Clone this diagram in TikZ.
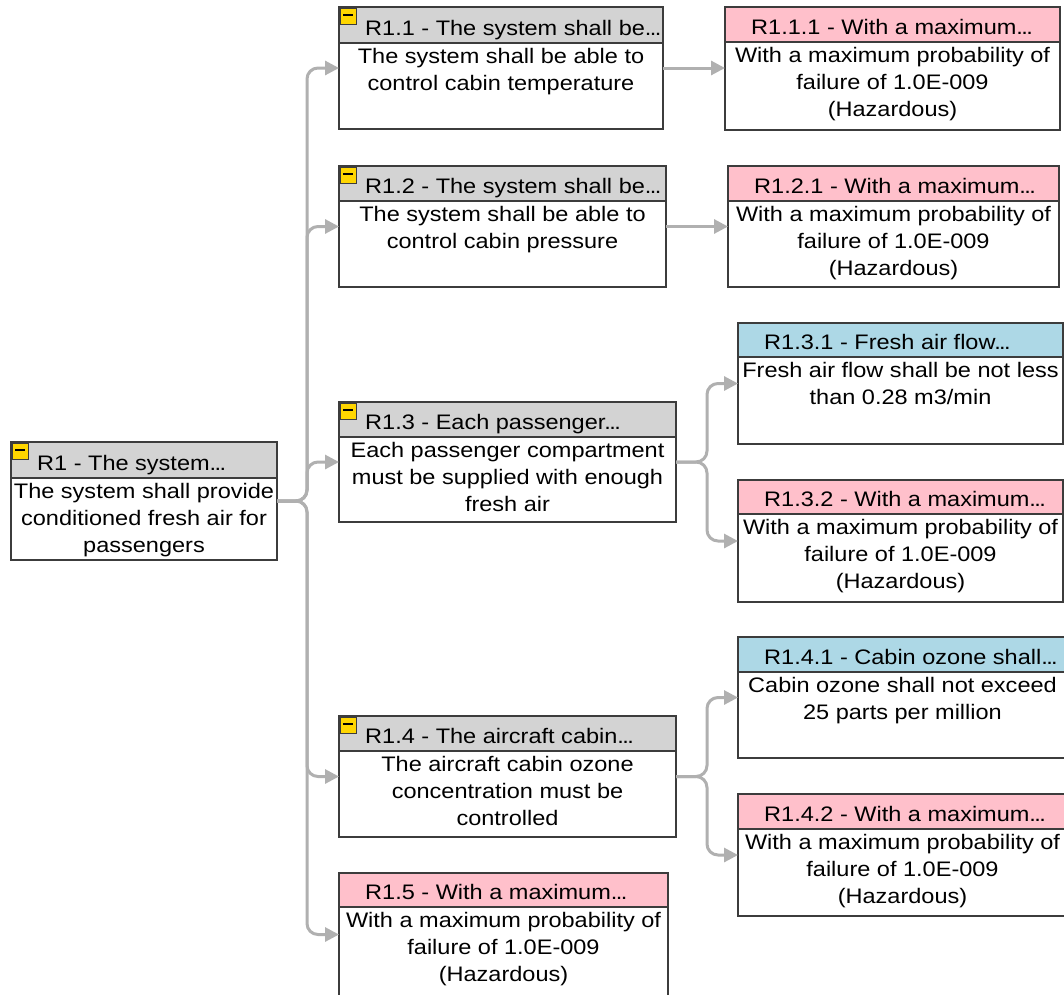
\documentclass[tikz,border=0pt]{standalone}
\usepackage{fontspec}
\setmainfont{Liberation Sans}[FakeStretch=1.12]
\usetikzlibrary{arrows.meta,calc}
\definecolor{hdrgray}{RGB}{211,211,211}
\definecolor{hdrpink}{RGB}{255,192,203}
\definecolor{hdrblue}{RGB}{173,216,230}
\definecolor{linegray}{RGB}{176,176,176}
\definecolor{edge}{RGB}{60,60,60}
\definecolor{icony}{RGB}{255,214,0}
\tikzset{
  reqnode/.style={fill=white, draw=none, inner sep=0pt, outer sep=0pt},
  border/.style={draw=edge, line width=1.3pt},
  divider/.style={draw=edge, line width=2.4pt},
  titletext/.style={anchor=base west, inner sep=0pt, text=black},
  bodytext/.style={anchor=north, inner sep=0pt, align=center, text=black},
  iconbox/.style={fill=icony, draw=edge, line width=0.8pt, minimum size=16pt, inner sep=0pt, outer sep=0pt},
  conn/.style={draw=linegray, line width=3pt, rounded corners=11pt, -{Triangle[length=14pt,width=14pt]}},
}
\newcommand\dotsx{.\kern-1.6pt.\kern-1.6pt.}
% #1 name, #2 x1, #3 y1, #4 x2, #5 y2, #6 header height, #7 colour, #8 title, #9 body
\newcommand\reqbox[9]{%
  \node[reqnode, minimum width={#4-#2}, minimum height={#5-#3}] (#1) at ({(#2+#4)/2},{(#3+#5)/2}) {};
  \fill[#7] (#1.north west) rectangle ([yshift=-#6]#1.north east);
  \draw[divider] ([yshift=-#6]#1.north west) -- ([yshift=-#6]#1.north east);
  \draw[border] (#1.north west) rectangle (#1.south east);
  \node[titletext] (#1-title) at ([xshift=26,yshift=-#6+8]#1.north west) {#8};
  \node[bodytext] (#1-text) at ([yshift=-#6-1]#1.north) {\strut #9};
}
\newcommand\minusicon[1]{%
  \node[iconbox] (#1-icon) at ([xshift=9,yshift=-9]#1.north west) {};
  \draw[line width=1.4pt, black] ([xshift=-5,yshift=1]#1-icon.center) -- ([xshift=5,yshift=1]#1-icon.center);
}
\newcommand\maxprob{With a maximum probability of\\failure of 1.0E-009\\(Hazardous)}
\begin{document}
\begin{tikzpicture}[x=1pt, y=-1pt, font=\fontsize{21}{27}\selectfont]
\useasboundingbox (0,0) rectangle (1064,994);
\fill[white] (0,0) rectangle (1064,994);

\coordinate (busA) at (307,501);
\coordinate (busB) at (707,463);
\coordinate (busC) at (707,777);

% nodes
\reqbox{r1}{11}{442}{277}{560}{36}{hdrgray}{R1 - The system\dotsx}{The system shall provide\\conditioned fresh air for\\passengers}
\reqbox{r11}{339}{7}{663}{129}{36}{hdrgray}{R1.1 - The system shall be\dotsx}{The system shall be able to\\control cabin temperature}
\reqbox{r111}{725}{7}{1060}{130}{35}{hdrpink}{R1.1.1 - With a maximum\dotsx}{\maxprob}
\reqbox{r12}{339}{166}{666}{287}{35}{hdrgray}{R1.2 - The system shall be\dotsx}{The system shall be able to\\control cabin pressure}
\reqbox{r121}{728}{166}{1059}{287}{35}{hdrpink}{R1.2.1 - With a maximum\dotsx}{\maxprob}
\reqbox{r13}{339}{402}{676}{522}{35}{hdrgray}{R1.3 - Each passenger\dotsx}{Each passenger compartment\\must be supplied with enough\\fresh air}
\reqbox{r131}{738}{323}{1063}{444}{34}{hdrblue}{R1.3.1 - Fresh air flow\dotsx}{Fresh air flow shall be not less\\than 0.28 m3/min}
\reqbox{r132}{738}{480}{1063}{602}{34}{hdrpink}{R1.3.2 - With a maximum\dotsx}{\maxprob}
\reqbox{r14}{339}{716}{676}{837}{35}{hdrgray}{R1.4 - The aircraft cabin\dotsx}{The aircraft cabin ozone\\concentration must be\\controlled}
\reqbox{r141}{738}{637}{1067}{758}{35}{hdrblue}{R1.4.1 - Cabin ozone shall\dotsx}{Cabin ozone shall not exceed\\25 parts per million}
\reqbox{r142}{738}{794}{1067}{916}{35}{hdrpink}{R1.4.2 - With a maximum\dotsx}{\maxprob}
\reqbox{r15}{339}{873}{668}{996}{34}{hdrpink}{R1.5 - With a maximum\dotsx}{\maxprob}

\minusicon{r1}
\minusicon{r11}
\minusicon{r12}
\minusicon{r13}
\minusicon{r14}

% connectors
\foreach \c in {r11,r12,r13,r14,r15}
  \draw[conn] (r1.east) -| (busA |- \c.west) -- (\c.west);
\draw[conn] (r11.east) -- (r11.east -| r111.west);
\draw[conn] (r12.east) -- (r12.east -| r121.west);
\foreach \c in {r131,r132}
  \draw[conn] (r13.east) -| (busB |- \c.west) -- (\c.west);
\foreach \c in {r141,r142}
  \draw[conn] (r14.east) -| (busC |- \c.west) -- (\c.west);
\end{tikzpicture}
\end{document}
